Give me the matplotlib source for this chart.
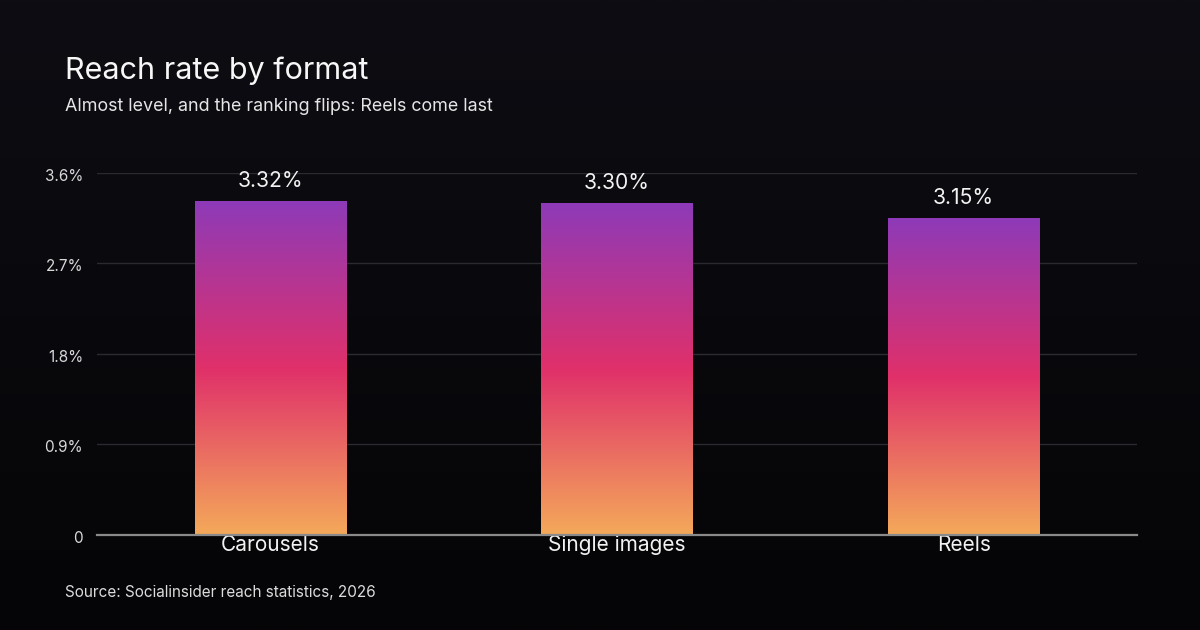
import numpy as np
import matplotlib.pyplot as plt
from matplotlib import colors, transforms

formats = ['Carousels', 'Single images', 'Reels']
reach_rate = [3.32, 3.30, 3.15]
y_ticks = [0, 0.9, 1.8, 2.7, 3.6]
y_tick_labels = ['0', '0.9%', '1.8%', '2.7%', '3.6%']

plt.rcParams['font.family'] = ['Inter', 'DejaVu Sans']

fig = plt.figure(figsize=(12, 6.3), dpi=100)

# background gradient, faintly bluish at top to near black
bg = fig.add_axes([0, 0, 1, 1], zorder=-10)
bg_cmap = colors.LinearSegmentedColormap.from_list('bg', ['#0d0d13', '#050507'])
bg.imshow(np.linspace(0, 1, 256).reshape(-1, 1), aspect='auto', cmap=bg_cmap,
          extent=[0, 1, 0, 1])
bg.set_axis_off()

ax = fig.add_axes([0.0808, 0.1508, 0.8667, 0.5746])
ax.patch.set_alpha(0)

bar_cmap = colors.LinearSegmentedColormap.from_list(
    'bar', ['#f4a95a', '#e0306a', '#8e3ab8'])
gradient = np.linspace(0, 1, 256).reshape(-1, 1)

x = np.arange(len(formats))
width = 0.436
bars = ax.bar(x, reach_rate, width=width, color='none', zorder=3)
for b in bars:
    x0, y0 = b.get_x(), b.get_y()
    ax.imshow(gradient, aspect='auto', cmap=bar_cmap, origin='lower',
              extent=[x0, x0 + b.get_width(), y0, y0 + b.get_height()],
              zorder=3)

for xi, v in zip(x, reach_rate):
    ax.annotate(f'{v:.2f}%', (xi, v), xytext=(0, 7.5), textcoords='offset points',
                ha='center', va='bottom', color='#f2f2f2', fontsize=15.2)

ax.set_xlim(-0.5, len(formats) - 0.5)
ax.set_ylim(0, 3.6)
ax.set_yticks(y_ticks)
ax.set_yticklabels(y_tick_labels)
ax.set_xticks(x)
ax.set_xticklabels(formats)

ax.grid(axis='y', color='#2a2a30', linewidth=1, zorder=0)
ax.tick_params(axis='y', length=0, pad=10, labelsize=11, labelcolor='#d8d8d8')
ax.tick_params(axis='x', length=0, pad=0, labelsize=15, labelcolor='#f2f2f2')
# y labels sit a touch below their gridlines
nudge = transforms.ScaledTranslation(0, -2 / 100, fig.dpi_scale_trans)
for lbl in ax.get_yticklabels():
    lbl.set_transform(lbl.get_transform() + nudge)
for s in ['top', 'right', 'left']:
    ax.spines[s].set_visible(False)
ax.spines['bottom'].set_color('#8a8a8a')
ax.spines['bottom'].set_linewidth(1.6)
ax.spines['bottom'].set_zorder(4)

fig.text(0.054, 0.875, 'Reach rate by format', color='#f7f7f7', fontsize=22,
         ha='left', va='baseline')
fig.text(0.054, 0.824, 'Almost level, and the ranking flips: Reels come last',
         color='#e6e6e6', fontsize=12.9, ha='left', va='baseline')
fig.text(0.054, 0.053, 'Source: Socialinsider reach statistics, 2026',
         color='#dcdcdc', fontsize=11, ha='left', va='baseline')

fig.savefig('out.png', dpi=100)
